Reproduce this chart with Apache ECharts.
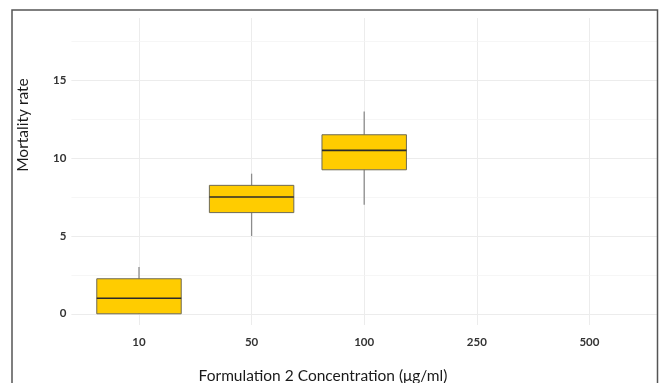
<!DOCTYPE html>
<html><head><meta charset="utf-8">
<script src="https://cdn.jsdelivr.net/npm/echarts@6/dist/echarts.min.js"></script>
<style>html,body{margin:0;padding:0;background:#fff}#c{width:659px;height:383px}</style>
</head><body><div id="c"></div>
<script>
const categories = ['10', '50', '100', '250', '500'];
const whiskerLow = [0, 5, 7];
const q1 = [0, 6.5, 9.25];
const medians = [1, 7.5, 10.5];
const q3 = [2.25, 8.25, 11.5];
const whiskerHigh = [3, 9, 13];
const yTicks = [0, 5, 10, 15];

const boxData = medians.map((m, i) => [i, whiskerLow[i], q1[i], m, q3[i], whiskerHigh[i]]);

const chart = echarts.init(document.getElementById('c'));
const YMIN = -0.72, YMAX = 19;
const fontFam = 'Lato, "Open Sans", sans-serif';

chart.setOption({
  animation: false,
  backgroundColor: '#fff',
  graphic: [{
    type: 'rect', shape: {x: 12, y: 10, width: 645.5, height: 400},
    style: {fill: 'none', stroke: '#555', lineWidth: 1.5}, z: 100
  }, {
    type: 'text', x: 323, y: 376,
    style: {text: 'Formulation 2 Concentration (μg/ml)', font: '15.5px ' + fontFam, fill: '#1a1a1a', textAlign: 'center', textVerticalAlign: 'middle'}
  }, {
    type: 'text', x: 23, y: 125, rotation: Math.PI / 2,
    style: {text: 'Mortality rate', font: '15.5px ' + fontFam, fill: '#1a1a1a', textAlign: 'center', textVerticalAlign: 'middle'}
  }],
  grid: [
    {left: 71.4, width: 585.6, top: 18, height: 307},
    {left: 82.7, width: 563, top: 18, height: 307}
  ],
  xAxis: [
    {gridIndex: 0, type: 'value', min: 0, max: 1, show: false},
    {gridIndex: 1, type: 'category', data: categories,
     axisLine: {show: false}, axisTick: {show: false},
     axisLabel: {margin: 11, fontSize: 11.5, fontWeight: 'bold', color: '#333', fontFamily: fontFam},
     splitLine: {show: true, alignWithLabel: true, lineStyle: {color: '#ececec', width: 1}}}
  ],
  yAxis: [
    {gridIndex: 0, type: 'value', min: YMIN, max: YMAX,
     axisLine: {show: false},
     axisLabel: {margin: 5, fontSize: 11.5, fontWeight: 'bold', color: '#333', fontFamily: fontFam,
       customValues: yTicks},
     axisTick: {show: false, customValues: yTicks},
     splitLine: {show: false},
     minorTick: {show: false}},
    {gridIndex: 1, type: 'value', min: YMIN, max: YMAX, show: false}
  ],
  series: [
    {
      type: 'line', xAxisIndex: 0, yAxisIndex: 0, data: [], silent: true, z: 0,
      markLine: {
        silent: true, symbol: 'none', label: {show: false}, z: 0,
        lineStyle: {type: 'solid'},
        data: [0, 2.5, 5, 7.5, 10, 12.5, 15, 17.5].map(v => ({
          yAxis: v,
          lineStyle: {color: v % 5 === 0 ? '#ececec' : '#f4f4f4', width: v % 5 === 0 ? 1 : 0.8}
        }))
      }
    },
    {
      type: 'custom', xAxisIndex: 1, yAxisIndex: 1, data: boxData, z: 10,
      renderItem: function (params, api) {
        const idx = api.value(0);
        const lo = api.coord([idx, api.value(1)]);
        const b1 = api.coord([idx, api.value(2)]);
        const md = api.coord([idx, api.value(3)]);
        const b3 = api.coord([idx, api.value(4)]);
        const hi = api.coord([idx, api.value(5)]);
        const w = api.size([1, 0])[0] * 0.75;
        const x0 = lo[0] - w / 2;
        return {
          type: 'group',
          children: [
            {type: 'line', shape: {x1: lo[0], y1: lo[1], x2: hi[0], y2: hi[1]},
             style: {stroke: '#8c8c8c', lineWidth: 1.3}},
            {type: 'rect', shape: {x: x0, y: b3[1], width: w, height: b1[1] - b3[1]},
             style: {fill: '#FFCC00', stroke: '#6e6a55', lineWidth: 1}},
            {type: 'line', shape: {x1: x0, y1: md[1], x2: x0 + w, y2: md[1]},
             style: {stroke: '#2b2b2b', lineWidth: 1.6}}
          ]
        };
      }
    }
  ]
});
</script></body></html>
